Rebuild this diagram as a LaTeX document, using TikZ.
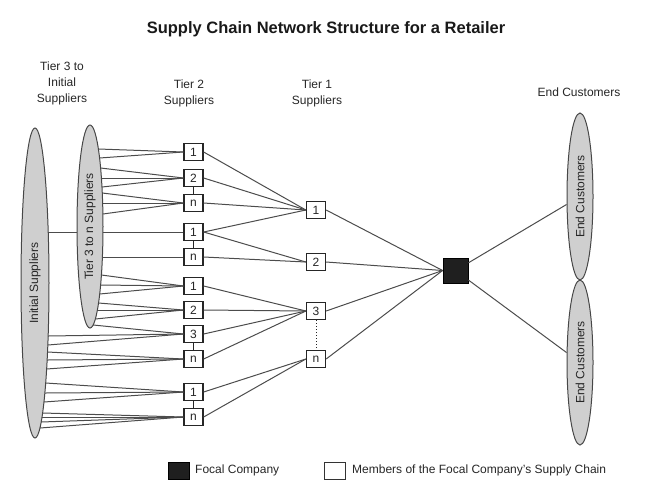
\documentclass[tikz,border=0pt]{standalone}
\usepackage{fontspec}
\setmainfont{Liberation Sans}
\usetikzlibrary{shapes.geometric,calc}
\begin{document}
\begin{tikzpicture}[x=1pt,y=-1pt,
  lbl/.style={font=\fontsize{12}{16}\selectfont, text=black!85, align=center, inner sep=0pt},
  sbox/.style={draw=black!85, line width=1.3pt, fill=white, minimum width=19pt, minimum height=17pt, inner sep=0pt, font=\fontsize{12}{14}\selectfont, text=black!85},
  ell/.style={ellipse, draw=black!72, line width=1pt, fill=black!19, inner sep=0pt, font=\fontsize{12}{14}\selectfont, text=black!85},
  conn/.style={draw=black!70, line width=1pt},
]
\useasboundingbox (0,0) rectangle (650,499);

% title
\node[font=\bfseries\fontsize{16.5}{18}\selectfont, text=black!90] (title) at (326,29) {Supply Chain Network Structure for a Retailer};

% headers
\node[lbl] (h3) at (62,83) {Tier 3 to\\Initial\\Suppliers};
\node[lbl] (h2) at (189,93.5) {Tier 2\\Suppliers};
\node[lbl] (h1) at (317,93.5) {Tier 1\\Suppliers};
\node[lbl] (hec) at (579,92) {End Customers};

% ellipses
\node[ell, rotate=90, minimum width=310pt, minimum height=28pt] (init) at (35,283) {Initial Suppliers};
\node[ell, rotate=90, minimum width=203pt, minimum height=26pt] (tthree) at (90,226.5) {Tier 3 to n Suppliers};
\node[ell, rotate=90, minimum width=167pt, minimum height=26pt] (ec1) at (580,196.5) {End Customers};
\node[ell, rotate=90, minimum width=165pt, minimum height=26pt] (ec2) at (580,362.5) {End Customers};

% tier 2 boxes
\node[sbox] (a1) at (193.5,152) {1};
\node[sbox] (a2) at (193.5,178) {2};
\node[sbox] (an) at (193.5,203) {n};
\node[sbox] (b1) at (193.5,232) {1};
\node[sbox] (bn) at (193.5,257) {n};
\node[sbox] (c1) at (193.5,286) {1};
\node[sbox] (c2) at (193.5,310) {2};
\node[sbox] (c3) at (193.5,334) {3};
\node[sbox] (cn) at (193.5,359) {n};
\node[sbox] (d1) at (193.5,392) {1};
\node[sbox] (dn) at (193.5,417) {n};

% tier 1 boxes
\node[sbox] (s1) at (316,210) {1};
\node[sbox] (s2) at (316,262) {2};
\node[sbox] (s3) at (316,311) {3};
\node[sbox] (sn) at (316,359) {n};

% focal company
\node[fill=black!88, draw=black, line width=0.8pt, minimum size=25pt, inner sep=0pt] (focal) at (455.5,270.5) {};

% initial suppliers -> tier 3 ellipse
\pgfmathsetmacro\xa{35+14*sqrt(1-((232-283)/155)^2)}
\pgfmathsetmacro\xb{90-13*sqrt(1-((232-226.5)/101.5)^2)}
\coordinate (ia) at (\xa,232);
\coordinate (ib) at (\xb,232);
\draw[conn] (ia) -- (ib);

% tier 3 ellipse -> tier 2
\foreach \yy/\tg in {149/a1,158/a1,168/a2,178/a2,187/a2,193/an,203/an,214/an,232/b1,257/bn,275/c1,285/c1,294/c1,303/c2,310/c2,319/c2,325/c3}{
  \pgfmathsetmacro\xx{90+13*sqrt(max(0,1-((\yy-226.5)/101.5)^2))}
  \coordinate (p) at (\xx,\yy);
  \draw[conn] (p) -- (\tg.west);
}
% initial suppliers -> tier 2
\foreach \yy/\tg in {336/c3,345/c3,352/cn,360/cn,369/cn,383/d1,393/d1,402/d1,413/dn,417/dn,422/dn,428/dn}{
  \pgfmathsetmacro\xx{35+14*sqrt(max(0,1-((\yy-283)/155)^2))}
  \coordinate (p) at (\xx,\yy);
  \draw[conn] (p) -- (\tg.west);
}

% links between tier 2 boxes
\draw[conn, draw=black!85] (a2) -- (an);
\draw[conn, draw=black!85] (b1) -- (bn);
\draw[conn, draw=black!85] (c3) -- (cn);
\draw[conn, draw=black!85] (d1) -- (dn);
\draw[conn, draw=black!85, dotted] (s3) -- (sn);

% tier 2 -> tier 1
\foreach \f/\t in {a1/s1,a2/s1,an/s1,b1/s1,b1/s2,bn/s2,c1/s3,c2/s3,c3/s3,cn/s3,d1/sn,dn/sn}{
  \draw[conn] (\f.east) -- (\t.west);
}

% tier 1 -> focal
\foreach \f in {s1,s2,s3,sn}{
  \draw[conn] (\f.east) -- (focal.west);
}

% focal -> end customers
\draw[conn] (focal) -- (ec1);
\draw[conn] (focal) -- (ec2);

% legend
\node[fill=black!88, draw=black, minimum width=21pt, minimum height=17pt, inner sep=0pt] (lf) at (178.5,470.5) {};
\node[lbl, anchor=west] (lft) at (195,470.5) {Focal Company};
\node[draw=black!80, line width=1pt, fill=white, minimum width=21pt, minimum height=17pt, inner sep=0pt] (lm) at (334.5,470.5) {};
\node[lbl, anchor=west] (lmt) at (352,470.5) {Members of the Focal Company's Supply Chain};
\end{tikzpicture}
\end{document}
